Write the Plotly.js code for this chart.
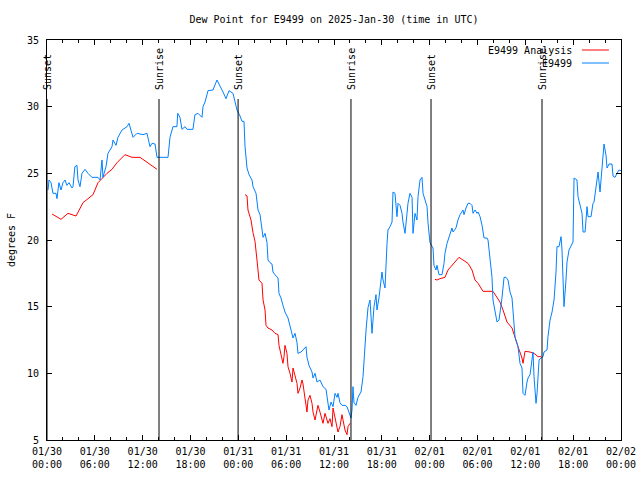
<!DOCTYPE html>
<html>
<head>
<meta charset="utf-8">
<script src="https://cdn.plot.ly/plotly-3.0.1.min.js"></script>
<style>html,body{margin:0;padding:0;background:#fff;}</style>
</head>
<body>
<div id="chart" style="width:640px;height:480px;"></div>
<script>
// Hours since 2025-01-30 00:00 UTC
const blueHours = [
0.13,0.25,0.5,0.75,1.13,1.25,1.5,1.76,2.0,2.26,
2.5,2.76,3.14,3.26,3.5,3.76,3.89,4.14,4.39,4.77,
5.14,5.64,6.4,6.65,6.9,7.02,7.4,7.65,8.15,8.28,
8.66,8.9,9.41,9.78,10.04,10.29,10.54,10.79,11.29,12.04,
12.54,12.92,13.17,13.55,13.8,15.18,15.43,15.8,16.3,16.4,
16.68,16.93,17.31,17.56,18.31,18.56,18.94,19.44,19.57,19.82,
20.2,20.82,21.32,21.7,22.08,22.45,22.83,23.33,23.58,23.83,
24.21,24.46,24.71,24.84,25.09,25.34,25.71,25.84,26.22,26.47,
26.72,26.97,27.1,27.35,27.6,27.72,27.97,28.22,28.35,28.6,
28.98,29.1,29.35,29.6,29.85,30.23,30.48,30.86,31.11,31.36,
31.48,31.86,32.11,32.49,32.61,32.86,33.24,33.37,33.62,33.87,
34.24,34.62,35.0,35.12,35.37,35.63,35.88,36.13,36.38,36.5,
36.75,37.0,37.38,37.63,37.88,38.13,38.26,38.38,38.51,38.76,
39.01,39.39,39.64,39.76,40.02,40.27,40.52,40.77,41.02,41.27,
41.39,41.65,42.02,42.15,42.4,42.65,42.77,43.03,43.28,43.4,
43.65,43.9,44.03,44.28,44.53,44.65,44.91,45.16,45.28,45.53,
45.79,45.91,46.16,46.41,46.54,46.79,47.04,47.17,47.42,47.67,
47.79,48.04,48.42,48.54,48.79,48.92,49.17,49.55,49.8,49.92,
50.18,50.3,50.55,50.8,50.93,51.3,51.55,51.81,52.18,52.31,
52.56,52.81,53.06,53.31,53.44,53.69,53.94,54.07,54.32,54.57,
54.82,55.19,55.32,55.44,55.69,55.82,55.94,56.2,56.45,56.7,
56.95,57.07,57.33,57.58,57.83,58.08,58.33,58.46,58.71,58.96,
59.08,59.33,59.58,59.71,59.96,60.21,60.34,60.59,60.84,60.96,
61.09,61.21,61.34,61.47,61.72,61.97,62.22,62.34,62.72,62.84,
63.1,63.35,63.6,63.85,63.97,64.22,64.48,64.6,64.73,64.85,
65.1,65.23,65.48,65.73,65.98,66.11,66.48,66.61,66.86,67.11,
67.24,67.49,67.74,67.86,68.24,68.49,68.62,68.87,69.12,69.37,
69.62,69.75,69.87,70.12,70.25,70.5,70.87,71.0,71.25,71.5,
71.75,72.0
];
const blueValues = [
23.75,24.5,24.3,23.5,23.5,23.1,24.3,23.75,24.3,24.5,
24.1,24.3,23.9,24.0,25.5,25.6,24.5,24.0,25.0,25.3,
25.0,24.7,24.7,24.5,26.0,24.7,25.5,26.5,27.0,27.5,
27.1,27.7,28.25,28.4,28.5,28.75,28.1,27.7,28.0,27.9,
28.0,27.0,27.25,27.2,26.2,26.2,27.7,28.5,28.5,29.5,
29.2,28.3,28.5,28.3,28.3,29.4,29.5,29.2,30.0,30.35,
31.2,31.25,32.0,31.6,31.1,30.6,31.2,31.0,30.35,29.75,
29.3,28.9,28.9,27.0,25.4,24.9,24.5,24.0,23.5,22.25,
21.9,21.0,20.2,20.5,19.8,18.5,18.3,18.2,17.6,17.4,
17.15,16.0,15.65,15.1,14.6,14.15,13.6,12.65,13.0,12.3,
11.5,11.6,11.75,12.0,11.2,10.6,10.1,9.65,10.0,9.35,
9.5,9.0,8.8,8.15,7.25,7.85,7.5,8.5,8.2,8.5,
7.8,7.6,7.6,7.5,7.0,6.65,7.25,9.0,7.8,7.6,
8.2,8.6,9.75,11.2,13.25,14.95,15.5,13.0,15.0,15.9,
14.75,15.7,17.6,17.0,16.4,19.75,20.75,21.0,21.35,23.6,
23.5,21.75,22.75,22.6,22.0,21.35,20.5,22.0,22.75,23.5,
23.2,20.5,22.0,21.5,23.25,24.5,24.7,23.5,23.0,22.5,
21.3,19.8,19.4,18.1,17.75,18.1,17.4,17.4,18.25,19.0,
19.75,20.0,20.4,20.9,20.6,20.9,21.5,21.9,22.25,21.9,
22.4,22.75,22.75,22.6,22.0,22.25,22.0,22.1,21.75,21.1,
20.15,20.15,20.0,19.25,18.1,17.2,15.5,14.5,13.85,14.0,
14.9,15.65,17.2,17.2,17.0,16.1,15.65,14.6,12.7,12.25,
12.0,10.75,10.4,8.5,8.35,9.35,9.65,9.9,11.0,11.6,
9.75,8.5,7.75,8.5,11.0,11.15,11.25,11.6,11.75,12.75,
14.0,14.6,15.5,17.6,19.5,19.5,20.25,19.25,17.0,15.0,
17.0,18.35,19.25,19.6,19.85,24.65,24.5,23.25,22.5,22.0,
20.6,20.6,22.5,21.75,21.75,22.75,22.85,24.0,25.1,23.6,
25.5,26.5,27.2,26.35,25.4,25.7,25.7,24.8,24.7,25.0,
25.25,25.2
];
const redHours = [
0.63,1.25,1.76,2.63,3.64,4.52,5.77,6.4,7.53,8.15,
8.78,9.78,10.66,11.67,12.54,13.8,null,
24.84,25.09,25.21,25.59,25.84,26.09,26.34,26.47,26.59,26.97,
27.1,27.35,27.47,27.72,28.22,28.6,28.98,29.1,29.35,29.6,
29.73,29.85,30.1,30.23,30.48,30.73,30.86,31.11,31.36,31.48,
31.74,31.99,32.11,32.36,32.61,32.74,32.99,33.24,33.37,33.62,
33.87,33.99,34.24,34.49,34.62,34.87,35.12,35.25,35.5,35.75,
35.88,36.13,36.38,36.5,36.75,37.0,37.13,37.38,37.63,37.76,
38.01,null,
48.67,48.92,49.3,49.92,50.3,50.8,51.18,51.68,52.18,52.81,
53.31,53.69,54.07,54.69,55.94,56.45,56.82,57.2,57.7,58.33,
58.71,59.08,59.58,59.71,59.96,60.59,61.21,61.59,61.97
];
const redValues = [
21.95,21.7,21.55,22.0,21.8,22.8,23.4,24.3,25.0,25.3,
25.8,26.4,26.2,26.2,25.85,25.3,null,
23.4,23.3,22.25,21.5,20.55,19.9,18.5,17.75,17.0,16.75,
15.5,14.75,13.6,13.4,13.25,13.0,12.9,12.1,11.4,10.75,
11.25,12.1,11.5,10.5,10.0,9.35,10.4,9.9,9.25,8.5,
8.9,9.5,9.2,8.15,7.1,8.0,8.35,7.75,7.1,6.5,
7.25,7.6,7.1,6.5,6.25,7.0,6.6,6.25,6.6,6.0,
7.4,6.7,6.0,5.6,6.0,6.9,6.5,5.75,5.4,6.0,
6.25,null,
17.05,17.0,17.1,17.2,17.75,18.1,18.3,18.7,18.5,18.25,
17.75,17.0,16.75,16.15,16.15,15.7,15.35,14.75,13.85,13.4,
12.65,12.0,11.15,10.75,11.65,11.6,11.45,11.25,11.25
];
const sunHours = [0, 14.05, 23.97, 38.13, 48.17, 62.09];
const sunLabels = ['Sunset','Sunrise','Sunset','Sunrise','Sunset','Sunrise'];
const seriesNames = ['E9499 Analysis', 'E9499'];
const seriesColors = ['#ff0000', '#0080ff'];

const BASE = Date.UTC(2025, 0, 30);
function toDate(h) {
  if (h === null) return null;
  return new Date(BASE + h * 3600000).toISOString().slice(0, 19).replace('T', ' ');
}

const FONT = 'DejaVu Sans Mono, monospace';

const traces = [
  {x: redHours.map(toDate), y: redValues, name: seriesNames[0], type: 'scatter', mode: 'lines',
   line: {color: seriesColors[0], width: 1}, connectgaps: false, showlegend: false},
  {x: blueHours.map(toDate), y: blueValues, name: seriesNames[1], type: 'scatter', mode: 'lines',
   line: {color: seriesColors[1], width: 1}, showlegend: false}
];

const shapes = [];
const annotations = [];
sunHours.forEach((h, i) => {
  shapes.push({type: 'line', xref: 'x', yref: 'paper', x0: toDate(h), x1: toDate(h), y0: 0, y1: 0.8525,
    line: {color: 'black', width: 1}});
  annotations.push({xref: 'x', yref: 'paper', x: toDate(h), y: 0.87, text: sunLabels[i], textangle: -90,
    showarrow: false, xanchor: 'center', yanchor: 'bottom', font: {family: FONT, size: 10, color: 'black'}});
});

// legend (text on left, line sample on right)
const legY = [0.975, 0.9425];
seriesNames.forEach((n, i) => {
  annotations.push({xref: 'paper', yref: 'paper', x: 0.918, y: legY[i], text: n, showarrow: false,
    xanchor: 'right', yanchor: 'middle', font: {family: FONT, size: 10, color: 'black'}});
  shapes.push({type: 'line', xref: 'paper', yref: 'paper', x0: 0.932, x1: 0.979, y0: legY[i], y1: legY[i],
    line: {color: seriesColors[i], width: 1}});
});

const layout = {
  width: 640, height: 480,
  margin: {l: 47, r: 19, t: 40, b: 40},
  paper_bgcolor: 'white', plot_bgcolor: 'white',
  font: {family: FONT, size: 10, color: 'black'},
  title: {text: 'Dew Point for E9499 on 2025-Jan-30 (time in UTC)', xref: 'paper', x: 0.5, xanchor: 'center',
    y: 0.96, yanchor: 'middle', font: {family: FONT, size: 10, color: 'black'}},
  xaxis: {
    type: 'date', range: [toDate(0), toDate(72)], tick0: toDate(0), dtick: 6 * 3600000,
    tickformat: '%m/%d<br>%H:%M', ticks: 'inside', ticklen: 5, tickcolor: 'black', tickwidth: 1,
    showline: true, linecolor: 'black', linewidth: 1, mirror: 'ticks', showgrid: false, zeroline: false,
    tickfont: {family: FONT, size: 10, color: 'black'}, ticklabelstandoff: 2,
    minor: {dtick: 2 * 3600000, tick0: toDate(0), ticks: 'inside', ticklen: 3, tickcolor: 'black', showgrid: false},
    fixedrange: true
  },
  yaxis: {
    range: [5, 35], dtick: 5, ticks: 'inside', ticklen: 5, tickcolor: 'black',
    showline: true, linecolor: 'black', linewidth: 1, mirror: 'ticks', showgrid: false, zeroline: false,
    tickfont: {family: FONT, size: 10, color: 'black'}, ticklabelstandoff: 5,
    title: {text: 'degrees F', font: {family: FONT, size: 10, color: 'black'}, standoff: 9},
    fixedrange: true
  },
  shapes: shapes,
  annotations: annotations,
  showlegend: false
};

Plotly.newPlot('chart', traces, layout, {displayModeBar: false, staticPlot: true});
</script>
</body>
</html>
